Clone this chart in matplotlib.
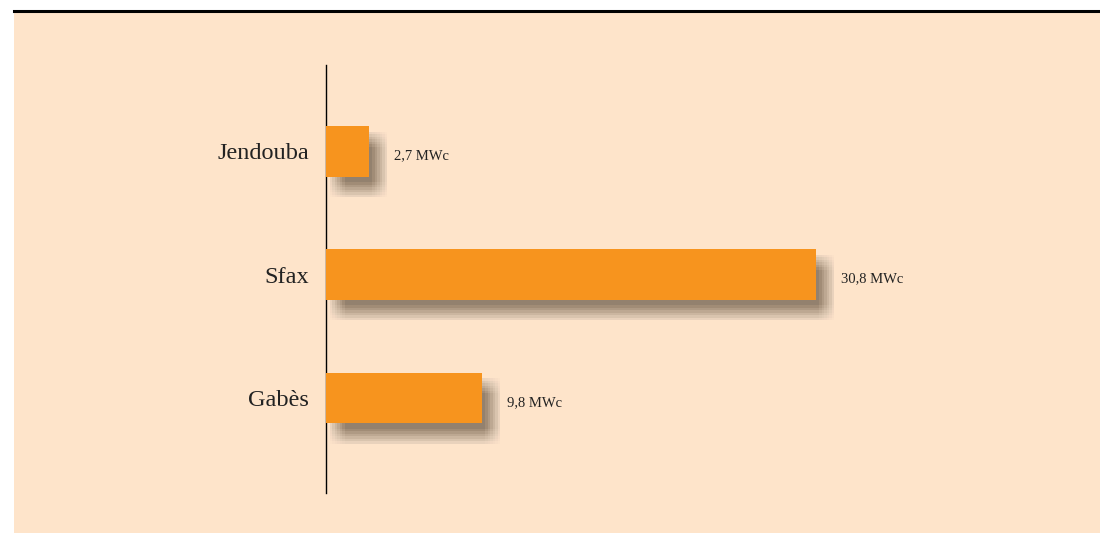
import matplotlib.pyplot as plt
import matplotlib.transforms as mtransforms
from matplotlib.patches import Rectangle
from matplotlib.lines import Line2D

# Données
regions = ['Jendouba', 'Sfax', 'Gabès']
puissance = [2.7, 30.8, 9.8]
etiquettes = ['2,7 MWc', '30,8 MWc', '9,8 MWc']

bg = '#fee4ca'
orange = '#f7941e'

fig = plt.figure(figsize=(11, 5.33), dpi=100)
fig.patch.set_facecolor('white')

# panneau de fond + filet noir en haut
fig.add_artist(Rectangle((14 / 1100, 0), 1 - 14 / 1100, 1 - 12 / 533,
                         transform=fig.transFigure, facecolor=bg, edgecolor='none', zorder=0))
fig.add_artist(Line2D([14 / 1100, 1], [1 - 10.5 / 533, 1 - 10.5 / 533],
                      transform=fig.transFigure, color='black', linewidth=2.2, zorder=1))

ax = fig.add_axes([326 / 1100, 40 / 533, 674 / 1100, 428 / 533])
ax.set_facecolor('none')

ypos = [2, 1, 0]

# ombre floue : copies décalées sur une petite grille (flou "boîte")
pas = [-7.5, -5, -2.5, 0, 2.5, 5, 7.5]
for dx in pas:
    for dy in pas:
        tr = mtransforms.offset_copy(ax.transData, fig=fig, x=11 + dx, y=-13 + dy, units='dots')
        ax.barh(ypos, puissance, height=0.41, color='#3a3020', alpha=0.013,
                linewidth=0, transform=tr, zorder=2)

ax.barh(ypos, puissance, height=0.41, color=orange, zorder=3)

for y, v, t in zip(ypos, puissance, etiquettes):
    ax.annotate(t, (v, y), xytext=(18, -3), textcoords='offset points',
                ha='left', va='center', fontsize=10.5, family='Liberation Serif',
                color='#222222')

ax.set_xlim(0, 42.4)
ax.set_ylim(-0.77, 2.70)
ax.set_yticks(ypos)
ax.set_yticklabels(regions, fontsize=17.5, family='Liberation Serif', color='#222222')
ax.tick_params(axis='y', length=0, pad=12)
ax.set_xticks([])

for s in ['top', 'right', 'bottom']:
    ax.spines[s].set_visible(False)
ax.spines['left'].set_linewidth(1.0)

fig.savefig('out.png', dpi=100, facecolor=fig.get_facecolor())
